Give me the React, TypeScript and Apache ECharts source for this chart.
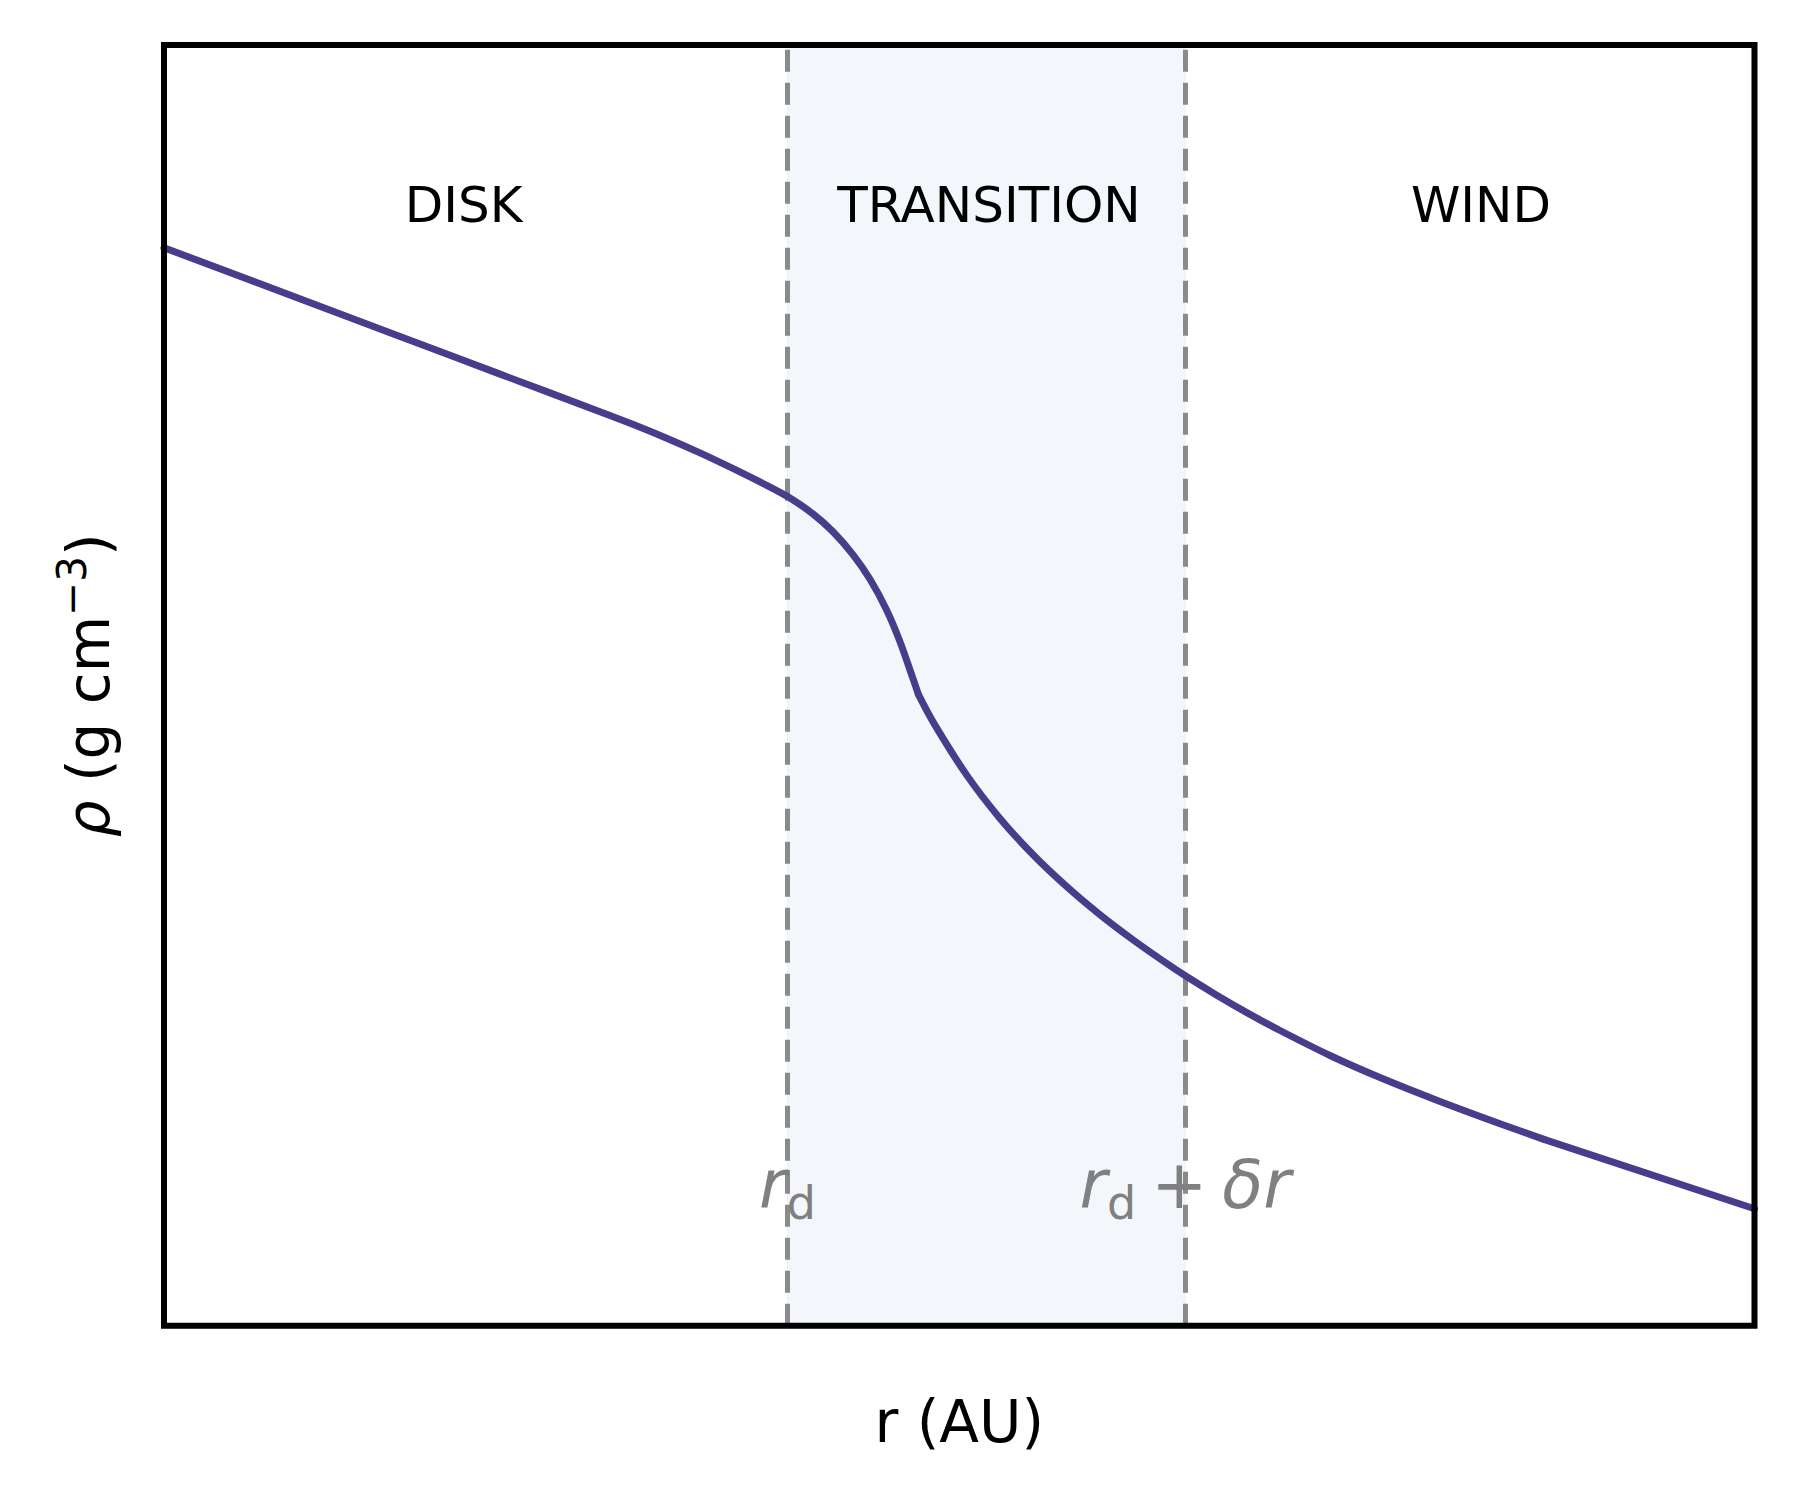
import React, { useEffect, useRef } from 'react';
import * as echarts from 'echarts';

// Radius (arbitrary linear units, 0..100 across the axes) and density (arbitrary units)
const rValues = [0, 14.84, 21.13, 27.41, 29.51, 31.61, 33.7, 35.79, 37.89, 39.28, 40.82, 42.08, 43.34, 44.39, 45.44, 46.27, 47.11, 47.43, 48.37, 50.47, 52.56, 54.66, 56.76, 58.85, 60.94, 63.04, 64.19, 66.19, 68.28, 70.17, 73.31, 76.45, 80.23, 84.0, 86.76, 100];
const rhoValues = [84.17, 77.24, 74.3, 71.37, 70.37, 69.3, 68.15, 66.92, 65.62, 64.68, 63.37, 61.97, 60.17, 58.28, 55.87, 53.42, 50.46, 49.29, 47.11, 42.99, 39.61, 36.75, 34.28, 32.09, 30.12, 28.29, 27.34, 25.81, 24.31, 23.05, 21.1, 19.38, 17.51, 15.77, 14.55, 9.13];
// indices where the profile changes slope abruptly (piece boundaries)
const breakIndices = [0, 17, 34, 35];

// r_d and r_d + δr
const boundaryR = [39.2, 64.2];
const boundaryLabels = ['{r|r}{d|d}', '{r|r}{d|d}{p|+}{r|δr}'];
const boundaryLabelRho = 10.98;

const regionNames = ['DISK', 'TRANSITION', 'WIND'];
const regionR = [18.84, 51.87, 82.8];
const regionRho = 87.5;

const xName = 'r (AU)';
const yName = '{i|ρ}{n| (g cm}{s|−3}{n|)}';

const FONT = 'DejaVu Sans';
const LINE_COLOR = '#483d8b';

export default function App() {
  const ref = useRef<HTMLDivElement>(null);

  useEffect(() => {
    if (!ref.current) return;
    const chart = echarts.init(ref.current, null, { renderer: 'svg' });
    const curve = rValues.map((r, i) => [r, rhoValues[i]]);
    const pieces: any[] = [];
    for (let k = 0; k < breakIndices.length - 1; k++) {
      pieces.push(curve.slice(breakIndices[k], breakIndices[k + 1] + 1));
    }
    const lineSeries = pieces.map((data, k) => {
      const s: any = {
        type: 'line',
        data,
        showSymbol: false,
        smooth: 0.3,
        z: 3,
        lineStyle: { color: LINE_COLOR, width: 7, cap: 'round', join: 'round' },
        itemStyle: { color: LINE_COLOR },
      };
      if (k === 0) {
        s.markArea = {
          silent: true,
          z: 0.5,
          itemStyle: { color: '#f3f7fc', borderColor: '#e8effb', borderWidth: 1 },
          data: [[{ xAxis: boundaryR[0] }, { xAxis: boundaryR[1] }]],
        };
        s.markLine = {
          silent: true,
          z: 1,
          symbol: ['none', 'none'],
          label: { show: false },
          lineStyle: { color: '#8a8a8a', width: 5, type: [22, 11] },
          data: boundaryR.map((r) => ({ xAxis: r })),
        };
      }
      return s;
    });
    chart.setOption({
      animation: false,
      backgroundColor: '#ffffff',
      grid: {
        left: 164,
        right: 45.5,
        top: 45,
        bottom: 174.3,
        show: true,
        borderColor: '#000000',
        borderWidth: 6,
        backgroundColor: 'transparent',
        z: 10,
        outerBoundsMode: 'none',
      },
      xAxis: {
        type: 'value',
        min: 0,
        max: 100,
        axisLine: { show: false },
        axisTick: { show: false },
        axisLabel: { show: false },
        splitLine: { show: false },
        name: xName,
        nameLocation: 'middle',
        nameGap: 67,
        nameTextStyle: { fontFamily: FONT, fontSize: 58, lineHeight: 58, color: '#000000' },
      },
      yAxis: {
        type: 'value',
        min: 0,
        max: 100,
        axisLine: { show: false },
        axisTick: { show: false },
        axisLabel: { show: false },
        splitLine: { show: false },
        name: yName,
        nameLocation: 'middle',
        nameRotate: 90,
        nameGap: 46,
        nameTextStyle: {
          fontFamily: FONT,
          fontSize: 58,
          lineHeight: 58,
          color: '#000000',
          rich: {
            i: { fontFamily: FONT, fontStyle: 'italic', fontSize: 58, lineHeight: 58, color: '#000000' },
            n: { fontFamily: FONT, fontSize: 58, lineHeight: 58, color: '#000000' },
            s: { fontFamily: FONT, fontSize: 40.6, lineHeight: 23, height: 23, verticalAlign: 'top', color: '#000000' },
          },
        },
      },
      series: [
        ...lineSeries,
        {
          type: 'scatter',
          symbolSize: 0,
          z: 4,
          silent: true,
          itemStyle: { opacity: 1 },
          data: regionR.map((r, i) => [r, regionRho, i]),
          label: {
            show: true,
            position: 'inside',
            opacity: 1,
            fontFamily: FONT,
            fontSize: 50,
            color: '#000000',
            formatter: (p: any) => regionNames[p.data[2]],
          },
        },
        {
          type: 'scatter',
          symbolSize: 0,
          z: 4,
          silent: true,
          itemStyle: { opacity: 1 },
          data: boundaryR.map((r, i) => [r, boundaryLabelRho, i]),
          label: {
            show: true,
            position: 'inside',
            opacity: 1,
            color: '#808080',
            formatter: (p: any) => boundaryLabels[p.data[2]],
            rich: {
              r: { fontFamily: FONT, fontStyle: 'italic', fontSize: 67, lineHeight: 80, color: '#808080' },
              d: { fontFamily: FONT, fontSize: 46, lineHeight: 45, height: 45, verticalAlign: 'bottom', color: '#808080' },
              p: { fontFamily: FONT, fontSize: 67, lineHeight: 80, padding: [0, 15, 0, 15], color: '#808080' },
            },
          },
        },
      ],
    });
    return () => chart.dispose();
  }, []);

  return (
    <div
      ref={ref}
      style={{ position: 'fixed', left: 0, top: 0, width: 1800, height: 1500, background: '#ffffff' }}
    />
  );
}
